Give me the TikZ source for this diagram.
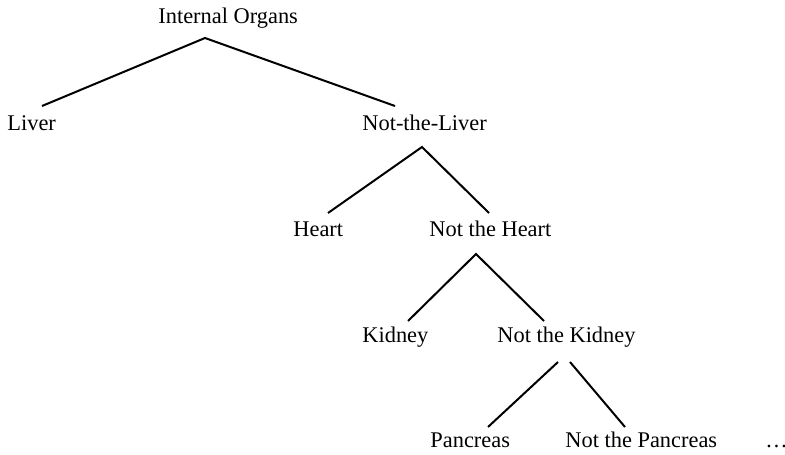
\documentclass[tikz,border=0pt]{standalone}
\usepackage{fontspec}
\setmainfont{Liberation Serif}
\begin{document}
\begin{tikzpicture}[x=0.5pt,y=-0.5pt,
  lbl/.style={anchor=base west,inner sep=0pt,font=\fontsize{11.2}{13}\selectfont},
  edge/.style={line width=1pt}]
\useasboundingbox (0,0) rectangle (785,454);
% labels
\node[lbl] (io) at (158,24) {Internal Organs};
\node[lbl] (liver) at (7,131) {Liver};
\node[lbl] (ntl) at (362,131) {Not-the-Liver};
\node[lbl] (heart) at (293,236) {Heart};
\node[lbl] (nth) at (429,236) {Not the Heart};
\node[lbl] (kid) at (362,342) {Kidney};
\node[lbl] (ntk) at (497,342) {Not the Kidney};
\node[lbl] (pan) at (430,447) {Pancreas};
\node[lbl] (ntp) at (565,447) {Not the Pancreas};
\node[lbl] (dots) at (765,447) {\ldots};
% connector end points
\coordinate (io-s) at (205,38);
\coordinate (liver-t) at (42,106);
\coordinate (ntl-t) at (395,106);
\coordinate (ntl-s) at (422,147);
\coordinate (heart-t) at (328,213);
\coordinate (nth-t) at (489,213);
\coordinate (nth-s) at (476,254);
\coordinate (kid-t) at (408,321);
\coordinate (ntk-t) at (544,321);
\coordinate (ntk-sl) at (558,362);
\coordinate (ntk-sr) at (570,362);
\coordinate (pan-t) at (488,427);
\coordinate (ntp-t) at (625,427);
% connectors
\draw[edge] (liver-t) -- (io-s) -- (ntl-t);
\draw[edge] (heart-t) -- (ntl-s) -- (nth-t);
\draw[edge] (kid-t) -- (nth-s) -- (ntk-t);
\draw[edge] (ntk-sl) -- (pan-t);
\draw[edge] (ntk-sr) -- (ntp-t);
\end{tikzpicture}
\end{document}
